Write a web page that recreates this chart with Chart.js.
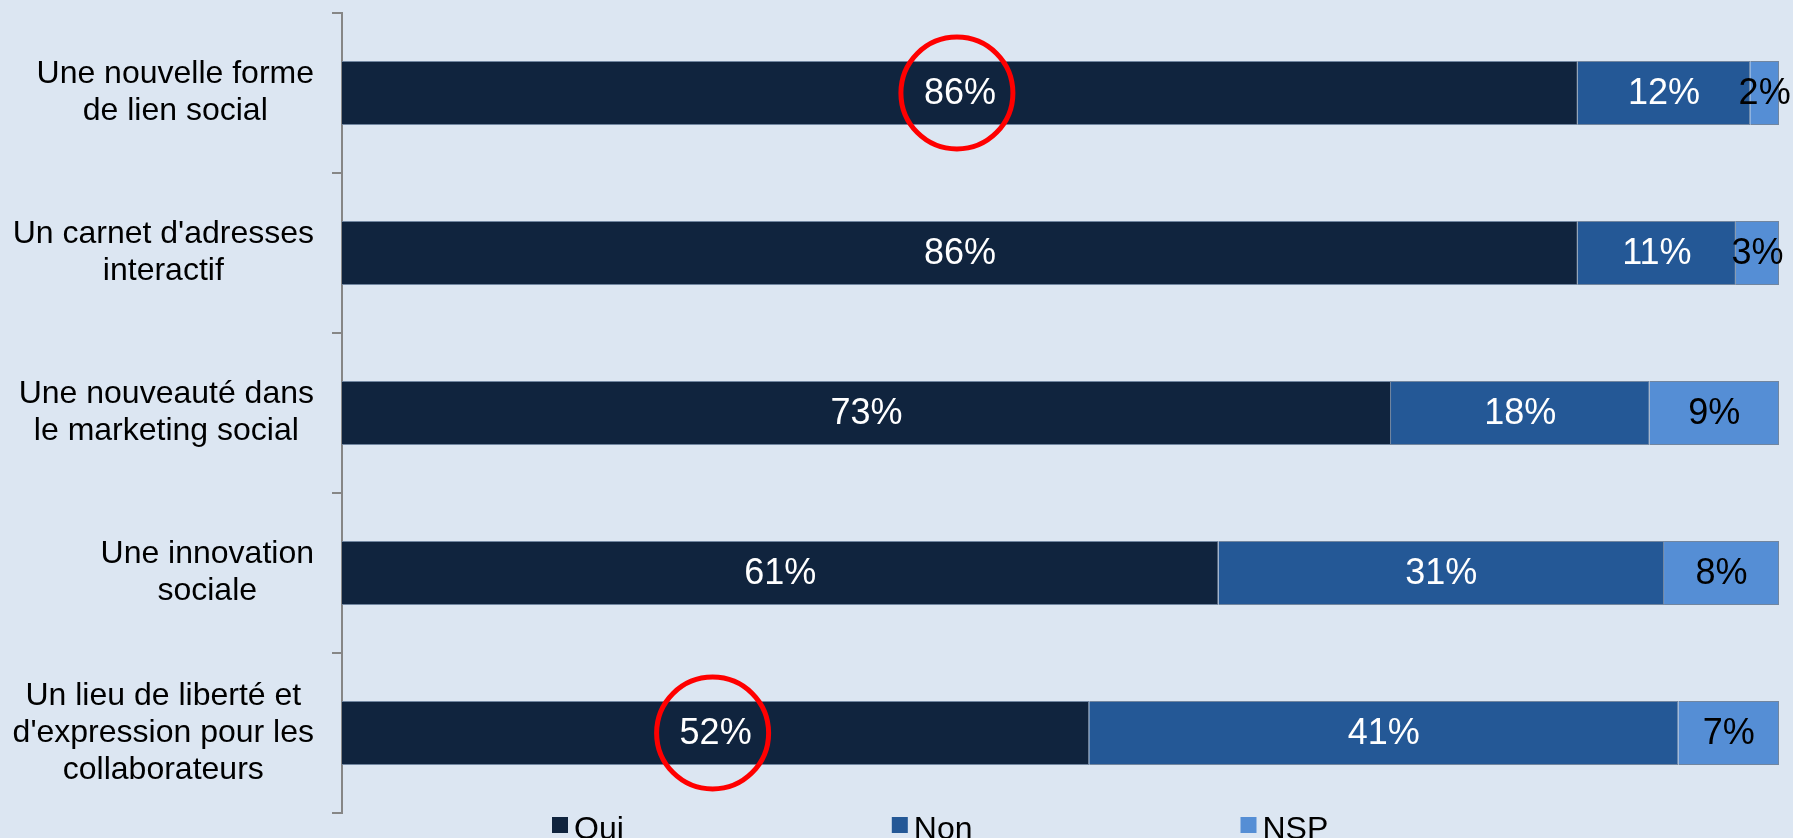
<!DOCTYPE html>
<html>
<head>
<meta charset="utf-8">
<script src="https://cdn.jsdelivr.net/npm/chart.js@4"></script>
<style>
  html, body { margin: 0; padding: 0; background: #DCE6F2; overflow: hidden; }
</style>
</head>
<body>
<canvas id="myChart" width="1793" height="838"></canvas>
<script>
const categories = [
  ['Une nouvelle forme', 'de lien social'],
  ["Un carnet d'adresses", 'interactif'],
  ['Une nouveauté dans', 'le marketing social'],
  ['Une innovation', 'sociale'],
  ['Un lieu de liberté et', "d'expression pour les", 'collaborateurs'],
];
const oui = [86, 86, 73, 61, 52];
const non = [12, 11, 18, 31, 41];
const nsp = [2, 3, 9, 8, 7];
const seriesNames = ['Oui', 'Non', 'NSP'];
// [dataset, category] of the values circled in red
const circled = [[0, 0], [0, 4]];

const FONT = '"Liberation Sans", Arial, sans-serif';

const extras = {
  id: 'extras',
  afterDatasetsDraw(chart) {
    const ctx = chart.ctx;
    const area = chart.chartArea;
    const yScale = chart.scales.y;
    ctx.save();

    // category labels: block right-aligned, lines centred
    ctx.font = '32px ' + FONT;
    ctx.fillStyle = '#000';
    ctx.textAlign = 'center';
    ctx.textBaseline = 'middle';
    const lh = 36.7;
    const right = area.left - 28;
    categories.forEach((lines, i) => {
      const y = yScale.getPixelForTick(i);
      const w = Math.max(...lines.map(l => ctx.measureText(l).width));
      const cx = right - w / 2;
      lines.forEach((l, k) => ctx.fillText(l, cx, y + (k - (lines.length - 1) / 2) * lh));
    });

    // value labels
    ctx.font = '36px ' + FONT;
    chart.data.datasets.forEach((ds, di) => {
      const meta = chart.getDatasetMeta(di);
      ctx.fillStyle = di === 2 ? '#000' : '#fff';
      meta.data.forEach((bar, i) => {
        ctx.fillText(ds.data[i] + '%', (bar.x + bar.base) / 2, bar.y + 1);
      });
    });

    // red circles
    ctx.strokeStyle = '#FF0000';
    ctx.lineWidth = 5;
    circled.forEach(([di, i]) => {
      const bar = chart.getDatasetMeta(di).data[i];
      ctx.beginPath();
      ctx.arc((bar.x + bar.base) / 2 - 3, bar.y, 56, 0, Math.PI * 2);
      ctx.stroke();
    });

    // legend
    ctx.font = '32px ' + FONT;
    ctx.textAlign = 'left';
    ctx.textBaseline = 'alphabetic';
    let x = area.left + 210;
    chart.data.datasets.forEach(ds => {
      ctx.fillStyle = ds.backgroundColor;
      ctx.fillRect(x, 817, 16, 16);
      ctx.fillStyle = '#000';
      ctx.fillText(ds.label, x + 22, 839);
      x += 22 + ctx.measureText(ds.label).width + 268;
    });
    ctx.restore();
  }
};

const config = {
  type: 'bar',
  data: {
    labels: categories,
    datasets: [
      { label: seriesNames[0], data: oui, backgroundColor: '#10243E' },
      { label: seriesNames[1], data: non, backgroundColor: '#245896' },
      { label: seriesNames[2], data: nsp, backgroundColor: '#558ED5' },
    ],
  },
  options: {
    indexAxis: 'y',
    responsive: false,
    animation: false,
    barPercentage: 0.4,
    categoryPercentage: 1,
    datasets: { bar: { borderWidth: 1, borderColor: '#7186A0' } },
    layout: { padding: { top: 13, right: 14, bottom: 25, left: 0 } },
    scales: {
      x: { stacked: true, display: false, min: 0, max: 100 },
      y: {
        stacked: true,
        ticks: { display: false },
        grid: { drawOnChartArea: false, color: '#868686', lineWidth: 2, tickLength: 10, offset: true },
        border: { color: '#868686', width: 2 },
        afterFit: s => { s.width = 342; },
      },
    },
    plugins: {
      legend: { display: false },
      tooltip: { enabled: false },
    },
  },
  plugins: [extras],
};

new Chart(document.getElementById('myChart'), config);
</script>
</body>
</html>
